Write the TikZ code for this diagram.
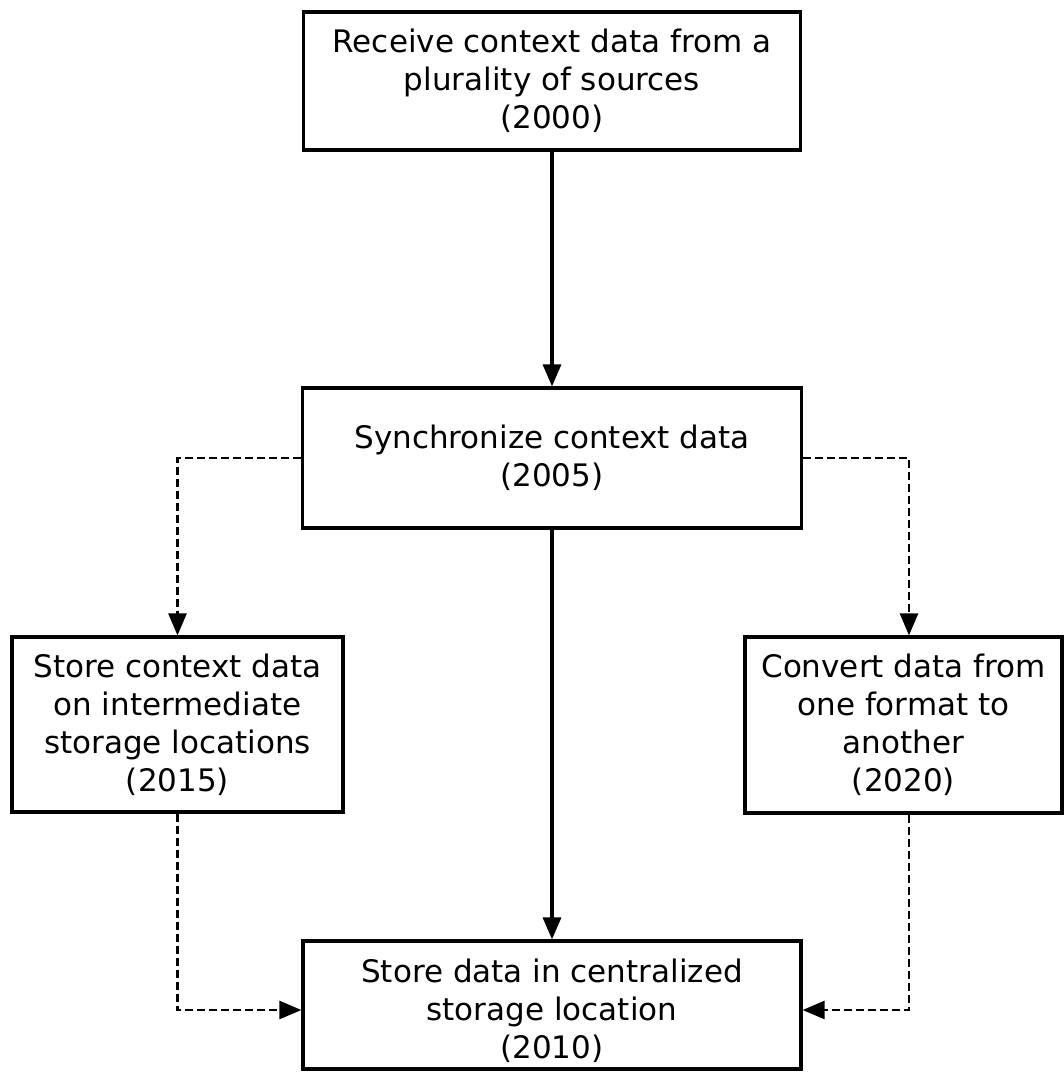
\documentclass[tikz,border=0pt]{standalone}
\usepackage{fontspec}
\setmainfont{DejaVu Sans}
\usetikzlibrary{arrows.meta}
\begin{document}
\begin{tikzpicture}[x=0.5pt,y=-0.5pt,
  box/.style={draw=black, line width=1.6pt, inner sep=0pt, align=center,
    font=\fontsize{15.5}{19}\selectfont},
  txt/.style={inner sep=0pt, align=center, font=\fontsize{15.5}{19}\selectfont},
  solidarrow/.style={line width=1.6pt, -{Triangle[length=11pt,width=9pt]}},
  dasharrow/.style={line width=1.3pt, dash pattern=on 4pt off 2pt,
    -{Triangle[length=11pt,width=9pt]}}]
\useasboundingbox[fill=white] (0,0) rectangle (1064,1072);

\node[box, minimum width=248.5pt, minimum height=69pt] (b1) at (552,81)
  {Receive context data from a\\plurality of sources\\(2000)};
\node[box, minimum width=249.5pt, minimum height=70pt] (b2) at (552,458)
  {Synchronize context data\\(2005)};
\node[box, minimum width=165.5pt, minimum height=87.5pt] (b3) at (177.5,724.5)
  {Store context data\\on intermediate\\storage locations\\(2015)};
\node[box, minimum width=158.5pt, minimum height=88pt] (b4) at (903.5,725)
  {Convert data from\\one format to\\another\\(2020)};
\node[box, minimum width=249pt, minimum height=64pt] (b5) at (552,1005) {};
\node[txt] (b5t) at (552,1011)
  {Store data in centralized\\storage location\\(2010)};

\draw[solidarrow] (b1.south) -- (b2.north);
\draw[solidarrow] (b2.south) -- (b5.north);
\draw[dasharrow] (b2.west) -| (b3.north);
\draw[dasharrow] (b2.east) -| ([xshift=2.75pt]b4.north);
\draw[dasharrow] (b3.south) |- ([yshift=-2.5pt]b5.west);
\draw[dasharrow] ([xshift=2.75pt]b4.south) |- ([yshift=-2.5pt]b5.east);
\end{tikzpicture}
\end{document}
